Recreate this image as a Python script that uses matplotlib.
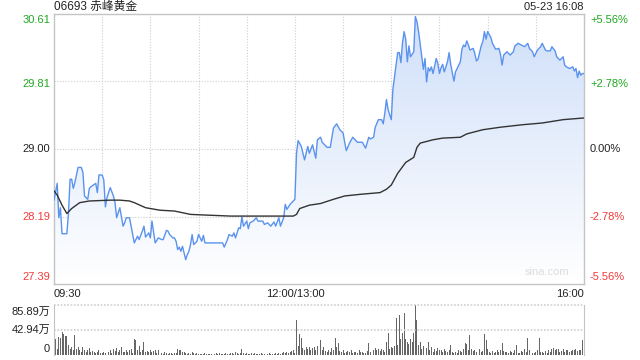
import numpy as np
import matplotlib
matplotlib.use("Agg")
import matplotlib.pyplot as plt
from matplotlib.colors import LinearSegmentedColormap

plt.rcParams['font.family'] = ['Liberation Sans', 'Noto Sans CJK SC', 'DejaVu Sans']

# ---------------- data ----------------
title = "06693 赤峰黄金"
stamp = "05-23 16:08"
prev_close = 29.00
price_ticks = [30.61, 29.81, 29.00, 28.19, 27.39]
pct_ticks = ["+5.56%", "+2.78%", "0.00%", "-2.78%", "-5.56%"]
time_labels = ["09:30", "12:00/13:00", "16:00"]
vol_max = 85.89
vol_labels = ["85.89万", "42.94万", "0"]

# trading minute index (0 = 09:30, 150 = 12:00/13:00, 330 = 16:00)
price_t = [0, 2, 3, 4, 5, 8, 9, 10, 11, 12, 13, 15, 17, 18, 19, 21, 22, 23, 26, 27,
           28, 30, 31, 32, 33, 35, 37, 38, 39, 41, 43, 44, 45, 47, 48, 50, 52, 53, 55, 56,
           57, 59, 60, 61, 63, 65, 67, 68, 70, 71, 72, 74, 75, 76, 77, 78, 79, 80, 82, 83,
           84, 85, 86, 87, 89, 90, 92, 93, 94, 95, 105, 106, 108, 109, 111, 112, 113, 115, 116, 117,
           118, 120, 121, 122, 124, 126, 127, 130, 131, 133, 135, 137, 138, 140, 141, 143, 144, 145, 147, 148,
           149, 150, 151, 152, 154, 156, 158, 159, 161, 163, 164, 166, 167, 170, 172, 174, 176, 178, 180, 181,
           182, 184, 186, 189, 192, 194, 196, 197, 199, 200, 202, 204, 205, 206, 207, 208, 210, 211, 212, 214,
           215, 216, 217, 218, 219, 220, 221, 222, 224, 225, 226, 227, 228, 230, 231, 232, 233, 234, 235, 236,
           238, 239, 240, 241, 242, 243, 245, 246, 247, 249, 250, 251, 253, 254, 255, 256, 257, 258, 259, 261,
           262, 263, 264, 266, 267, 268, 269, 270, 272, 273, 275, 277, 278, 279, 280, 282, 284, 286, 287, 289,
           291, 293, 295, 296, 298, 299, 301, 303, 304, 306, 307, 309, 310, 312, 313, 315, 317, 318, 319, 321,
           323, 324, 325, 326, 327, 328, 329, 330]
price_v = [28.39, 28.59, 28.18, 28.30, 27.99, 27.99, 28.23, 28.64, 28.64, 28.53, 28.60, 28.78, 28.78, 28.72, 28.44, 28.40, 28.53, 28.55, 28.59, 28.48,
           28.69, 28.69, 28.63, 28.31, 28.42, 28.54, 28.44, 28.36, 28.18, 28.30, 28.08, 28.12, 28.18, 28.18, 28.08, 27.88, 27.96, 27.92, 28.02, 28.08,
           27.95, 28.00, 27.94, 28.14, 27.88, 27.94, 27.92, 27.92, 28.03, 28.02, 27.98, 27.94, 27.94, 27.90, 27.80, 27.83, 27.78, 27.84, 27.68, 27.74,
           27.78, 27.86, 27.98, 27.86, 27.90, 27.98, 27.90, 27.97, 27.88, 27.88, 27.88, 27.83, 27.92, 27.98, 27.96, 28.00, 27.94, 28.06, 28.05, 28.19,
           28.08, 28.14, 28.05, 28.12, 28.14, 28.18, 28.14, 28.14, 28.10, 28.12, 28.08, 28.13, 28.08, 28.18, 28.08, 28.18, 28.34, 28.28, 28.34, 28.36,
           28.38, 28.40, 28.95, 29.10, 29.03, 28.87, 29.03, 28.95, 29.05, 28.89, 29.11, 29.14, 29.08, 29.02, 29.02, 29.25, 29.30, 29.23, 29.19, 29.08,
           28.98, 29.07, 29.14, 29.08, 29.08, 29.01, 29.14, 29.12, 29.14, 29.26, 29.35, 29.35, 29.30, 29.43, 29.59, 29.47, 29.35, 29.71, 29.86, 30.15,
           30.15, 30.03, 30.27, 30.40, 30.31, 30.04, 30.23, 30.10, 30.16, 30.58, 30.52, 30.40, 30.25, 29.95, 30.08, 29.80, 29.97, 29.93, 29.98, 29.90,
           30.08, 30.02, 29.90, 29.97, 30.01, 29.92, 30.04, 30.15, 30.01, 29.81, 29.92, 29.96, 30.04, 30.19, 30.24, 30.22, 30.29, 30.24, 30.18, 30.20,
           30.14, 30.05, 30.07, 30.23, 30.28, 30.40, 30.31, 30.40, 30.33, 30.26, 30.19, 30.20, 30.13, 30.00, 30.12, 30.16, 30.12, 30.16, 30.23, 30.26,
           30.24, 30.22, 30.26, 30.20, 30.16, 30.10, 30.18, 30.22, 30.26, 30.18, 30.17, 30.17, 30.22, 30.17, 30.10, 30.06, 30.10, 30.00, 29.98, 29.96,
           29.98, 29.93, 29.96, 29.85, 29.93, 29.88, 29.90, 29.90]

avg_t = [0, 2, 5, 8, 11, 16, 22, 35, 41, 47, 50, 57, 66, 75, 85, 97, 110, 149, 151, 153,
         159, 166, 174, 181, 191, 203, 207, 210, 214, 219, 224, 226, 228, 236, 242, 253, 257, 267, 278, 292,
         304, 317, 330]
avg_v = [28.50, 28.45, 28.33, 28.23, 28.29, 28.36, 28.38, 28.39, 28.39, 28.38, 28.36, 28.30, 28.27, 28.26, 28.22, 28.21, 28.20, 28.20, 28.22, 28.29,
         28.33, 28.35, 28.40, 28.44, 28.46, 28.48, 28.52, 28.57, 28.71, 28.84, 28.90, 29.02, 29.07, 29.11, 29.13, 29.14, 29.18, 29.23, 29.26, 29.29,
         29.31, 29.35, 29.37]

# volume per minute, in 万 shares (index 0..330)
volume = [55, 27, 11, 31, 29, 40, 36, 33, 33, 17,
          11, 14, 9, 34, 10, 14, 8, 6, 13, 9,
          5, 8, 12, 6, 7, 5, 4, 5, 9, 3,
          4, 5, 3, 2, 6, 8, 4, 11, 7, 12,
          5, 9, 14, 6, 5, 9, 6, 8, 10, 4,
          27, 25, 9, 15, 5, 9, 23, 6, 7, 5,
          8, 6, 7, 9, 4, 8, 3, 4, 2, 5,
          3, 2, 4, 3, 2, 3, 4, 11, 8, 9,
          5, 6, 3, 2, 4, 2, 5, 3, 2, 3,
          1, 2, 1, 2, 3, 1, 2, 1, 2, 1,
          2, 3, 1, 4, 2, 1, 2, 3, 1, 2,
          4, 3, 2, 5, 3, 2, 4, 11, 3, 2,
          3, 1, 2, 4, 2, 3, 2, 1, 2, 3,
          1, 2, 1, 2, 3, 2, 1, 2, 3, 2,
          4, 2, 3, 5, 4, 6, 3, 5, 7, 9,
          4,
          60, 15, 36, 29, 12, 8, 14, 11, 13, 9,
          12, 14, 9, 15, 11, 26, 8, 13, 7, 6,
          8, 5, 12, 9, 29, 14, 20, 7, 5, 8,
          4, 6, 7, 5, 9, 4, 6, 5, 3, 8,
          5, 6, 4, 3, 7, 21, 6, 5, 9, 12,
          8, 10, 7, 11, 9, 6, 23, 38, 10, 14,
          12, 16, 63, 18, 69, 27, 37, 72, 28, 22,
          19, 27, 23, 37, 85.89, 60, 18, 22, 10, 16,
          9, 12, 23, 8, 13, 6, 10, 7, 12, 9,
          8, 6, 10, 7, 5, 9, 17, 6, 4, 5,
          3, 9, 7, 5, 10, 21, 19, 8, 34, 10,
          7, 9, 6, 8, 10, 5, 7, 36, 26, 10,
          6, 4, 7, 3, 5, 9, 6, 8, 21, 7,
          5, 6, 3, 7, 5, 4, 8, 17, 4, 3,
          7, 5, 10, 6, 30, 8, 5, 4, 3, 6,
          8, 30, 6, 5, 3, 7, 4, 8, 5, 10,
          12, 8, 10, 11, 6, 7, 10, 5, 8, 9,
          6, 7, 9, 8, 10, 7, 9, 8, 25, 12]

# ---------------- style ----------------
GREEN = '#1fa81f'
RED = '#f23a3a'
BLACK = '#222222'
LINE = '#5a93ee'
AVG = '#333333'
BORDER = '#c4c4c4'
GRID = '#cfcfcf'

W, H = 640, 360
fig = plt.figure(figsize=(W / 100, H / 100), dpi=100)
fig.patch.set_facecolor('white')


def fx(x):
    return x / W


def fy(y):
    return 1 - y / H


ax = fig.add_axes([fx(54), fy(284), (584 - 54) / W, (284 - 14) / H])
ax.set_xlim(0, 330)
ax.set_ylim(price_ticks[-1], price_ticks[0])
ax.set_xticks([])
ax.set_yticks([])
for s in ax.spines.values():
    s.set_color(BORDER)
    s.set_linewidth(1)

# grid
for k in range(1, 11):
    ax.axvline(k * 30, color=GRID, lw=0.8, ls=(0, (1, 1.5)), zorder=1)
for p in price_ticks[1:-1]:
    ax.axhline(p, color=GRID, lw=0.8, ls=(0, (1, 1.5)), zorder=1)

# gradient fill under price
poly = ax.fill_between(price_t, price_v, price_ticks[-1], color='none', lw=0)
cmap = LinearSegmentedColormap.from_list('g', ['#ffffff', '#cfdff9'])
grad = np.linspace(0, 1, 256).reshape(-1, 1)
im = ax.imshow(grad, cmap=cmap, aspect='auto', origin='lower',
               extent=[0, 330, price_ticks[-1], price_ticks[0]], zorder=2)
path = poly.get_paths()[0]
im.set_clip_path(path, transform=ax.transData)

ax.plot(price_t, price_v, color=LINE, lw=1.0, zorder=4)
ax.plot(avg_t, avg_v, color=AVG, lw=1.0, zorder=5)
ax.set_xlim(0, 330)
ax.set_ylim(price_ticks[-1], price_ticks[0])

ax.text(0.93, 0.025, "sina.com", transform=ax.transAxes, ha='center', va='bottom',
        fontsize=8, color='#dddddd', zorder=6)

# volume axes
vax = fig.add_axes([fx(54), fy(355), (584 - 54) / W, (355 - 305) / H])
vax.set_xlim(0, 330)
vax.set_ylim(0, vol_max)
vax.bar(np.arange(len(volume)), volume, width=0.6, color='#666666', lw=0)
vax.set_xticks([])
vax.set_yticks([])
for side in ['top', 'bottom']:
    vax.spines[side].set_visible(False)
for side in ['left', 'right']:
    vax.spines[side].set_color(BORDER)
vax.axhline(vol_max, color=GRID, lw=1.2, ls=(0, (1, 1)), clip_on=False)
vax.axhline(vol_max / 2, color=GRID, lw=1.2, ls=(0, (1, 1)))

# texts
fs = 8
fig.text(fx(54), fy(7), title, ha='left', va='center', fontsize=8.5, color=BLACK)
fig.text(fx(584), fy(7), stamp, ha='right', va='center', fontsize=8, color=BLACK)

left_y = [20, 84, 149, 217, 277]
colors = [GREEN, GREEN, BLACK, RED, RED]
for p, y, c in zip(price_ticks, left_y, colors):
    fig.text(fx(50), fy(y), f"{p:.2f}", ha='right', va='center', fontsize=fs, color=c)
for lab, y, c in zip(pct_ticks, left_y, colors):
    fig.text(fx(590), fy(y), lab, ha='left', va='center', fontsize=fs, color=c)

fig.text(fx(54), fy(294), time_labels[0], ha='left', va='center', fontsize=fs, color=BLACK)
fig.text(fx(295), fy(294), time_labels[1], ha='center', va='center', fontsize=fs, color=BLACK)
fig.text(fx(584), fy(294), time_labels[2], ha='right', va='center', fontsize=fs, color=BLACK)

for lab, y in zip(vol_labels, [312, 330, 349]):
    fig.text(fx(50), fy(y), lab, ha='right', va='center', fontsize=fs, color=BLACK)

fig.savefig('out.png', dpi=100, facecolor='white')
